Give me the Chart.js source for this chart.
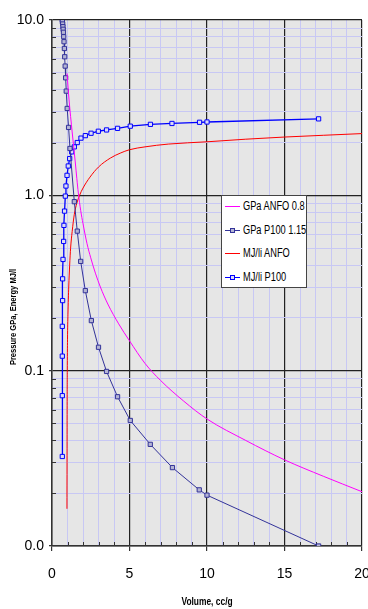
<!DOCTYPE html>
<html><head><meta charset="utf-8">
<script src="https://cdn.jsdelivr.net/npm/chart.js@4/dist/chart.umd.min.js"></script>
<style>
html,body{margin:0;padding:0;background:#fff;}
#wrap{position:relative;width:368px;height:609px;}
canvas{display:block}
#legend{position:absolute;left:221px;top:195px;width:84px;height:91px;background:#fff;border:1px solid #444;font-family:"Liberation Sans Narrow","Arial Narrow","Liberation Sans",sans-serif;font-size:12.5px;color:#000;}
.row{position:absolute;left:0;width:84px;height:14px;}
.smp{position:absolute;left:3px;width:15px;top:7px;height:0;border-top:1px solid}
.mk{position:absolute;left:5px;top:-3px;width:3px;height:3px;border:1px solid;background:#fff}
.lbl{position:absolute;left:21px;top:0;line-height:14px;white-space:nowrap;transform:scaleX(0.74);transform-origin:0 50%}
</style></head>
<body>
<div id="wrap"><canvas id="c" width="368" height="609"></canvas><div id="legend"></div></div>
<script>
// ---- data ----
const seriesLabels = ['GPa ANFO 0.8', 'GPa P100 1.15', 'MJ/li ANFO', 'MJ/li P100'];
const volumeGpaAnfo = [0.97,1.1,1.3,1.5,1.6,1.7,1.85,2.0,2.26,2.5,2.8,3.12,3.6,4.3,5,6,7,8.5,10,12.5,15,17.5,20];
const gpaAnfo = [4.96,3.5,2.3,1.55,1.25,1.03,0.82,0.69,0.53,0.44,0.36,0.3,0.24,0.185,0.148,0.11,0.088,0.067,0.053,0.04,0.031,0.025,0.0204];
const volumeGpaP100 = [0.665,0.67,0.69,0.705,0.72,0.74,0.755,0.775,0.80,0.82,0.85,0.88,0.92,0.98,1.07,1.16,1.44,1.63,1.85,2.15,2.54,3.0,3.52,4.23,5.05,6.34,7.77,9.5,10.0,17.2];
const gpaP100 = [10,9.78,9.49,9.16,8.85,8.51,8.03,7.52,6.88,6.17,5.46,4.68,3.93,3.13,2.44,1.85,0.92,0.625,0.42,0.286,0.193,0.136,0.099,0.071,0.052,0.038,0.028,0.0209,0.0195,0.01];
const volumeMjAnfo = [0.965,0.97,0.975,0.985,1.0,1.03,1.08,1.14,1.2,1.3,1.44,1.6,1.78,2.0,2.45,3.0,3.76,4.4,5,6,7.5,10,12.5,15,17.5,20];
const mjAnfo = [0.0163,0.03,0.06,0.1,0.15,0.21,0.3,0.4,0.5,0.62,0.78,0.9,1.0,1.1,1.27,1.45,1.63,1.74,1.82,1.89,1.96,2.02,2.09,2.15,2.2,2.25];
const volumeMjP100 = [0.665,0.665,0.665,0.665,0.685,0.685,0.71,0.75,0.77,0.81,0.86,0.90,0.97,1.05,1.14,1.27,1.44,1.63,1.87,2.15,2.52,2.99,3.52,4.23,5.05,6.35,7.74,9.52,10.0,17.2];
const mjP100 = [0.0324,0.072,0.121,0.179,0.251,0.334,0.431,0.546,0.674,0.813,0.99,1.13,1.30,1.47,1.62,1.77,1.89,2.0,2.12,2.19,2.26,2.32,2.36,2.41,2.48,2.54,2.57,2.61,2.62,2.73];
const xTickLabels = [0, 5, 10, 15, 20];
const yTickLabels = [0.01, 0.1, 1, 10];
const xTitle = 'Volume, cc/g';
const yTitle = 'Pressure GPa, Energy MJ/l';

// ---- chart ----
const FONT = '"Liberation Sans Narrow","Arial Narrow","Liberation Sans",sans-serif';
const pts = (xs, ys) => xs.map((x, i) => ({x: x, y: ys[i]}));
const isDecade = v => Math.abs(Math.log10(v) - Math.round(Math.log10(v))) < 1e-9;
const yTickVals = [];
[0.01, 0.1, 1].forEach(d => { for (let m = 1; m <= 9; m++) yTickVals.push(+(m * d).toPrecision(2)); });
yTickVals.push(10);

const bgPlugin = {id: 'bg', beforeDraw(c) {
  const {ctx, chartArea: a} = c; ctx.save(); ctx.fillStyle = '#e6e6e6';
  ctx.fillRect(a.left, a.top, a.right - a.left, a.bottom - a.top); ctx.restore(); }};
const innerTicks = {id: 'innerTicks', beforeDatasetsDraw(c) {
  const {ctx, chartArea: a, scales: {x, y}} = c; ctx.save(); ctx.strokeStyle = '#333'; ctx.lineWidth = 1; ctx.beginPath();
  x.ticks.forEach(t => { if (xTickLabels.includes(t.value)) return; const px = Math.round(x.getPixelForValue(t.value)) + 0.5; ctx.moveTo(px, a.bottom); ctx.lineTo(px, a.bottom - 4); });
  y.ticks.forEach(t => { if (isDecade(t.value)) return; const py = Math.round(y.getPixelForValue(t.value)) + 0.5; ctx.moveTo(a.left, py); ctx.lineTo(a.left + 4, py); });
  ctx.stroke(); ctx.restore(); }};
const titlesPlugin = {id: 'titlesPlugin', afterDraw(c) {
  const {ctx, chartArea: a} = c; ctx.save();
  ctx.font = 'bold 9px ' + FONT; ctx.fillStyle = '#000'; ctx.textAlign = 'center'; ctx.textBaseline = 'middle';
  ctx.translate(14, 317); ctx.rotate(-Math.PI / 2); ctx.scale(0.84, 1);
  ctx.fillText(yTitle, 0, 0); ctx.restore();
  ctx.save(); ctx.font = 'bold 10px ' + FONT; ctx.fillStyle = '#000'; ctx.textAlign = 'center'; ctx.textBaseline = 'middle';
  ctx.translate((a.left + a.right) / 2, 602); ctx.scale(0.84, 1); ctx.fillText(xTitle, 0, 0); ctx.restore(); }};

const colors = ['#ff00ff', '#333399', '#ff0000', '#0000ff'];
const chart = new Chart(document.getElementById('c'), {
  type: 'scatter',
  data: {datasets: [
    {label: seriesLabels[0], data: pts(volumeGpaAnfo, gpaAnfo), showLine: true, borderColor: colors[0], borderWidth: 1, pointRadius: 0, cubicInterpolationMode: 'monotone'},
    {label: seriesLabels[1], data: pts(volumeGpaP100, gpaP100), showLine: true, borderColor: colors[1], borderWidth: 1, pointStyle: 'rect', pointRadius: 3, pointBorderWidth: 1, pointBorderColor: colors[1], pointBackgroundColor: '#b4b4d4'},
    {label: seriesLabels[2], data: pts(volumeMjAnfo, mjAnfo), showLine: true, borderColor: colors[2], borderWidth: 1, pointRadius: 0, cubicInterpolationMode: 'monotone'},
    {label: seriesLabels[3], data: pts(volumeMjP100, mjP100), showLine: true, borderColor: colors[3], borderWidth: 1.3, pointStyle: 'rect', pointRadius: 3, pointBorderWidth: 1, pointBorderColor: colors[3], pointBackgroundColor: '#dcdcf4'}
  ]},
  options: {
    responsive: false, animation: false, devicePixelRatio: 1,
    layout: {padding: {left: 0, top: 20, right: 6, bottom: 0}},
    plugins: {legend: {display: false}, tooltip: {enabled: false}},
    scales: {
      x: {type: 'linear', min: 0, max: 20,
        ticks: {stepSize: 1, autoSkip: false, maxRotation: 0, padding: 15, color: '#000', font: {family: FONT, size: 14},
          callback: v => xTickLabels.includes(v) ? String(v) : ''},
        grid: {color: c => xTickLabels.includes(c.tick.value) ? '#222' : '#c8c8f4', lineWidth: c => xTickLabels.includes(c.tick.value) ? 1.2 : 1,
          tickColor: c => xTickLabels.includes(c.tick.value) ? '#333' : 'rgba(0,0,0,0)', tickLength: 5},
        border: {color: '#333', width: 1.5},
        title: {display: false, text: xTitle},
        afterFit: s => { s.height = 63; s.paddingLeft = 0; s.paddingRight = 0; }
      },
      y: {type: 'logarithmic', min: 0.01, max: 10,
        afterBuildTicks: s => { s.ticks = yTickVals.map(v => ({value: v})); },
        ticks: {autoSkip: false, padding: 5, color: '#000', font: {family: FONT, size: 14},
          callback: v => yTickLabels.some(t => Math.abs(t - v) < 1e-9) ? Number(v).toFixed(1) : ''},
        grid: {color: c => isDecade(c.tick.value) ? '#222' : '#c8c8f4', lineWidth: c => isDecade(c.tick.value) ? 1.3 : 1,
          tickColor: c => isDecade(c.tick.value) ? '#333' : 'rgba(0,0,0,0)', tickLength: 3},
        border: {color: '#333', width: 1.5},
        title: {display: false, text: yTitle},
        afterFit: s => { s.width = 52; s.paddingTop = 0; s.paddingBottom = 0; }
      }
    }
  },
  plugins: [bgPlugin, innerTicks, titlesPlugin]
});

// ---- legend (HTML overlay built from dataset labels) ----
const legend = document.getElementById('legend');
const rowTops = [3, 27, 50, 74];
seriesLabels.forEach((lab, i) => {
  const r = document.createElement('div'); r.className = 'row'; r.style.top = rowTops[i] + 'px';
  const s = document.createElement('div'); s.className = 'smp'; s.style.borderTopColor = colors[i];
  if (i === 1 || i === 3) { const m = document.createElement('div'); m.className = 'mk'; m.style.borderColor = colors[i]; m.style.background = i === 1 ? '#b4b4d4' : '#dcdcf4'; s.appendChild(m); }
  const t = document.createElement('div'); t.className = 'lbl'; t.textContent = lab;
  r.appendChild(s); r.appendChild(t); legend.appendChild(r);
});
</script>
</body></html>
